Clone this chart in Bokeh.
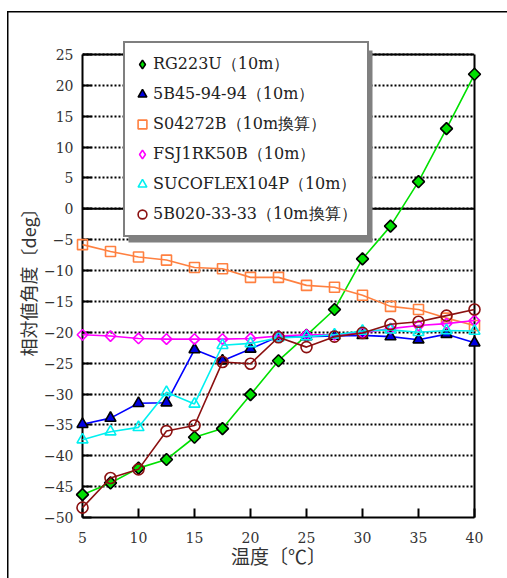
import math
from bokeh.plotting import figure
from bokeh.models import (FixedTicker, Legend, LegendItem, Span, BoxAnnotation, Range1d,
                          LinearAxis, Title)
from bokeh.embed import file_html
from bokeh.resources import INLINE

# ---------------- data ----------------
temps = [5, 7.5, 10, 12.5, 15, 17.5, 20, 22.5, 25, 27.5, 30, 32.5, 35, 37.5, 40]
rg223u = [-46.3, -44.4, -42.0, -40.6, -37.0, -35.6, -30.1, -24.6, -20.5, -16.3, -8.1, -2.8, 4.4, 13.0, 21.8]
b45_94_94 = [-34.9, -33.9, -31.5, -31.4, -22.8, -24.6, -22.7, -20.7, -20.7, -20.6, -20.5, -20.7, -21.2, -20.3, -21.7]
s04272b = [-5.8, -6.9, -7.8, -8.3, -9.5, -9.7, -11.1, -11.1, -12.4, -12.7, -14.0, -15.8, -16.3, -17.7, -18.9]
fsj1rk50b = [-20.4, -20.6, -21.0, -21.1, -21.1, -21.1, -21.0, -20.6, -20.4, -20.4, -20.1, -19.4, -18.9, -18.6, -18.1]
sucoflex104p = [-37.4, -36.1, -35.4, -29.7, -31.6, -22.1, -21.8, -20.9, -20.7, -20.4, -19.8, -19.6, -20.0, -19.7, -19.8]
b020_33_33 = [-48.4, -43.6, -42.2, -36.0, -35.1, -24.8, -25.1, -20.8, -22.4, -20.7, -20.1, -18.7, -18.3, -17.3, -16.3]

series_names = ["RG223U（10m）", "5B45-94-94（10m）", "S04272B（10m換算）",
                "FSJ1RK50B（10m）", "SUCOFLEX104P（10m）", "5B020-33-33（10m換算）"]

x_ticks = [5, 10, 15, 20, 25, 30, 35, 40]
x_tick_labels = ["5", "10", "15", "20", "25", "30", "35", "40"]
y_ticks = [-50, -45, -40, -35, -30, -25, -20, -15, -10, -5, 0, 5, 10, 15, 20, 25]
y_tick_labels = ["\u221250", "\u221245", "\u221240", "\u221235", "\u221230", "\u221225", "\u221220",
                 "\u221215", "\u221210", "\u22125", "0", "5", "10", "15", "20", "25"]
x_min, x_max = 5, 40
y_min, y_max = -50, 25

x_label = "温度〔℃〕"
y_label = "相対値角度〔deg〕"

# ---------------- figure ----------------
SERIF = "DejaVu Serif"
CJK = "Noto Sans CJK JP"

# frame is extended a little above the top value so the legend (which overlaps
# the top border in the original) is not clipped
p = figure(width=507, height=578, output_backend="svg", toolbar_location=None,
           x_range=Range1d(x_min, x_max), y_range=Range1d(y_min, y_max + 3.89),
           min_border_left=82, min_border_right=33, min_border_top=30, min_border_bottom=61,
           background_fill_color="white")
p.border_fill_alpha = 0
p.styles = {
    "background": "linear-gradient(#000,#000) 7px 11px / 1.5px 100% no-repeat, "
                  "linear-gradient(#000,#000) 7px 11px / 100% 1.5px no-repeat, #ffffff"
}

p.outline_line_color = None
p.xgrid.visible = False
p.ygrid.ticker = FixedTicker(ticks=y_ticks)
p.ygrid.grid_line_color = "black"
p.ygrid.grid_line_width = 2
p.ygrid.grid_line_dash = "2 2"

for ax, ticks, labels in ((p.xaxis[0], x_ticks, x_tick_labels), (p.yaxis[0], y_ticks, y_tick_labels)):
    ax.ticker = FixedTicker(ticks=ticks)
    ax.major_label_overrides = {t: l for t, l in zip(ticks, labels)}
    ax.minor_tick_line_color = None
    ax.major_tick_in = 9
    ax.major_tick_out = 0
    ax.major_tick_line_width = 2
    ax.major_tick_line_color = "black"
    ax.axis_line_width = 2
    ax.axis_line_color = "black"
    ax.major_label_text_font = SERIF
    ax.major_label_text_font_size = "14px"
    ax.major_label_text_color = "#333333"
    ax.axis_label_text_font = CJK
    ax.axis_label_text_font_style = "normal"
    ax.axis_label_text_color = "#333333"

p.yaxis.bounds = (y_min, y_max)
p.xaxis.axis_label = x_label
p.xaxis.major_label_standoff = 14
p.yaxis.major_label_standoff = 9
p.xaxis.axis_label_text_font_size = "19px"
p.xaxis.axis_label_standoff = -4

# y axis title (side title, so that it can be offset along the axis)
p.add_layout(Title(text=y_label, align="left", offset=161, text_font=CJK,
                   text_font_size="18px", text_font_style="normal",
                   text_color="#333333", standoff=0), "left")

# right border of the plot area
right_axis = LinearAxis(ticker=FixedTicker(ticks=[]), bounds=(y_min, y_max),
                        axis_line_width=2, axis_line_color="black",
                        major_tick_in=0, major_tick_out=0,
                        minor_tick_line_color=None, major_label_text_font_size="0px")
p.add_layout(right_axis, "right")

# top border and zero line (solid)
p.add_layout(Span(location=y_max, dimension="width", line_color="black", line_width=2))
p.add_layout(Span(location=0, dimension="width", line_color="black", line_width=2, level="underlay"))

styles = [
    dict(marker="square", legend_marker="diamond", angle=math.pi / 4, size=8.5,
         fill_color="#00e000", line_color="black", lc="#00e000"),
    dict(marker="triangle", legend_marker=None, angle=0, size=11,
         fill_color="#0000e0", line_color="black", lc="#0000ff"),
    dict(marker="square", legend_marker=None, angle=0, size=10,
         fill_color=None, line_color="#ff8040", lc="#ff8040"),
    dict(marker="square", legend_marker="diamond", angle=math.pi / 4, size=7.5,
         fill_color=None, line_color="#ff00ff", lc="#ff00ff"),
    dict(marker="triangle", legend_marker=None, angle=0, size=11,
         fill_color=None, line_color="#00f0f0", lc="#00f0f0"),
    dict(marker="circle", legend_marker=None, angle=0, size=11,
         fill_color=None, line_color="#8b1010", lc="#8b1010"),
]
all_series = [rg223u, b45_94_94, s04272b, fsj1rk50b, sucoflex104p, b020_33_33]

items = []
for name, ys, st in zip(series_names, all_series, styles):
    p.line(temps, ys, line_color=st["lc"], line_width=1.6, level="overlay")
    sc = p.scatter(temps, ys, marker=st["marker"], angle=st["angle"], size=st["size"],
                   fill_color=st["fill_color"], line_color=st["line_color"], line_width=1.6,
                   level="overlay")
    if st["legend_marker"]:
        # legend swatch only (a single NaN point, nothing drawn in the plot):
        # the legend does not rotate markers
        sc = p.scatter(x=[float("nan")], y=[float("nan")], marker=st["legend_marker"],
                       size=st["size"], fill_color=st["fill_color"],
                       line_color=st["line_color"], line_width=1.6)
    items.append(LegendItem(label=name, renderers=[sc]))

# legend shadow
p.add_layout(BoxAnnotation(left=46, right=290, bottom=275, top=467,
                           left_units="screen", right_units="screen",
                           top_units="screen", bottom_units="screen",
                           fill_color="#808080", fill_alpha=1, line_color=None))

legend = Legend(items=items, location=(41, 280), orientation="vertical")
legend.label_text_font = SERIF
legend.label_text_font_size = "16px"
legend.label_text_color = "#222222"
legend.label_height = 30
legend.glyph_height = 30
legend.glyph_width = 22
legend.label_standoff = -4
legend.label_width = 208
legend.spacing = 0
legend.padding = 6
legend.margin = 0
legend.border_line_color = "black"
legend.border_line_width = 2
legend.background_fill_color = "white"
legend.background_fill_alpha = 1
p.add_layout(legend, "center")

open("out.html", "w").write(file_html(p, INLINE))
